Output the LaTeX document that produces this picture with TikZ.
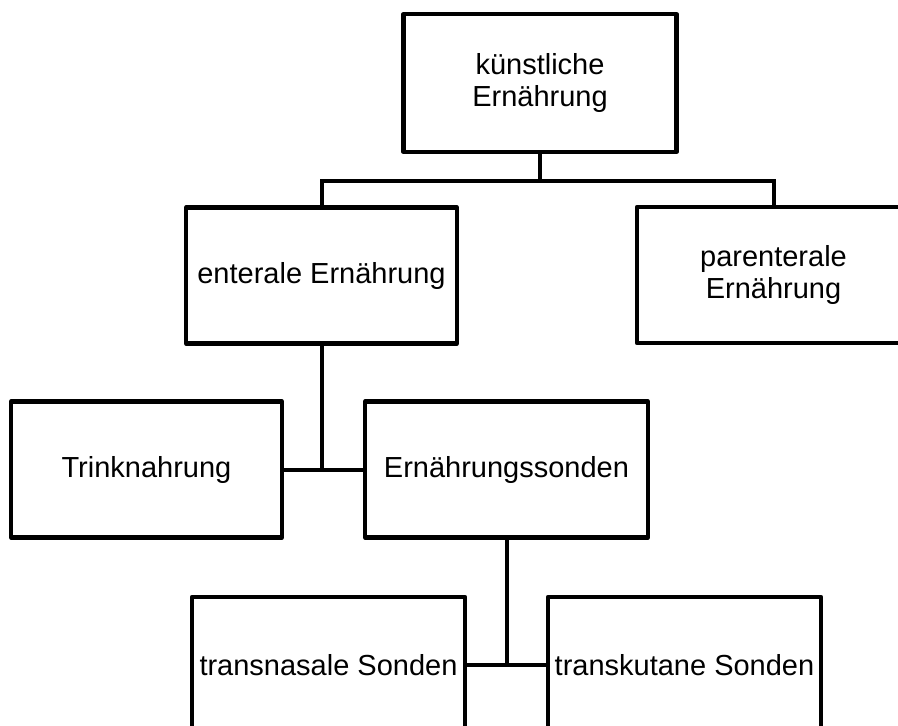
\documentclass[tikz,border=0pt]{standalone}
\usepackage{fontspec}
\setmainfont{Liberation Sans}
\begin{document}
\begin{tikzpicture}[x=1pt,y=-1pt,
  box/.style={draw=black, line width=4.2pt, line join=round, fill=white, inner sep=0pt,
    minimum width=273pt, minimum height=136pt, align=center,
    font=\fontsize{29}{32}\selectfont},
  conn/.style={draw=black, line width=4pt}]
\useasboundingbox (0,0) rectangle (898,726);
\node[box, minimum height=138pt] (top) at (540,83) {künstliche\\Ernährung};
\node[box, minimum width=271pt] (ent) at (321.5,275.5) {enterale Ernährung};
\node[box] (par) at (773.5,275) {parenterale\\Ernährung};
\node[box, minimum width=271pt] (trink) at (146.5,469.5) {Trinknahrung};
\node[box, minimum width=283pt] (sond) at (506.5,469.5) {Ernährungssonden};
\node[box] (nasal) at (328.5,665) {transnasale Sonden};
\node[box] (kutan) at (684.5,665) {transkutane Sonden};
\coordinate (j1) at (540,181);
\draw[conn] (top.south) -- (j1);
\draw[conn] (ent.north) |- (j1) -| (par.north);
\draw[conn] (ent.south) -- (ent.south |- trink.east);
\draw[conn] (trink.east) -- (sond.west);
\draw[conn] (sond.south) -- (sond.south |- nasal.east);
\draw[conn] (nasal.east) -- (kutan.west);
\end{tikzpicture}
\end{document}
